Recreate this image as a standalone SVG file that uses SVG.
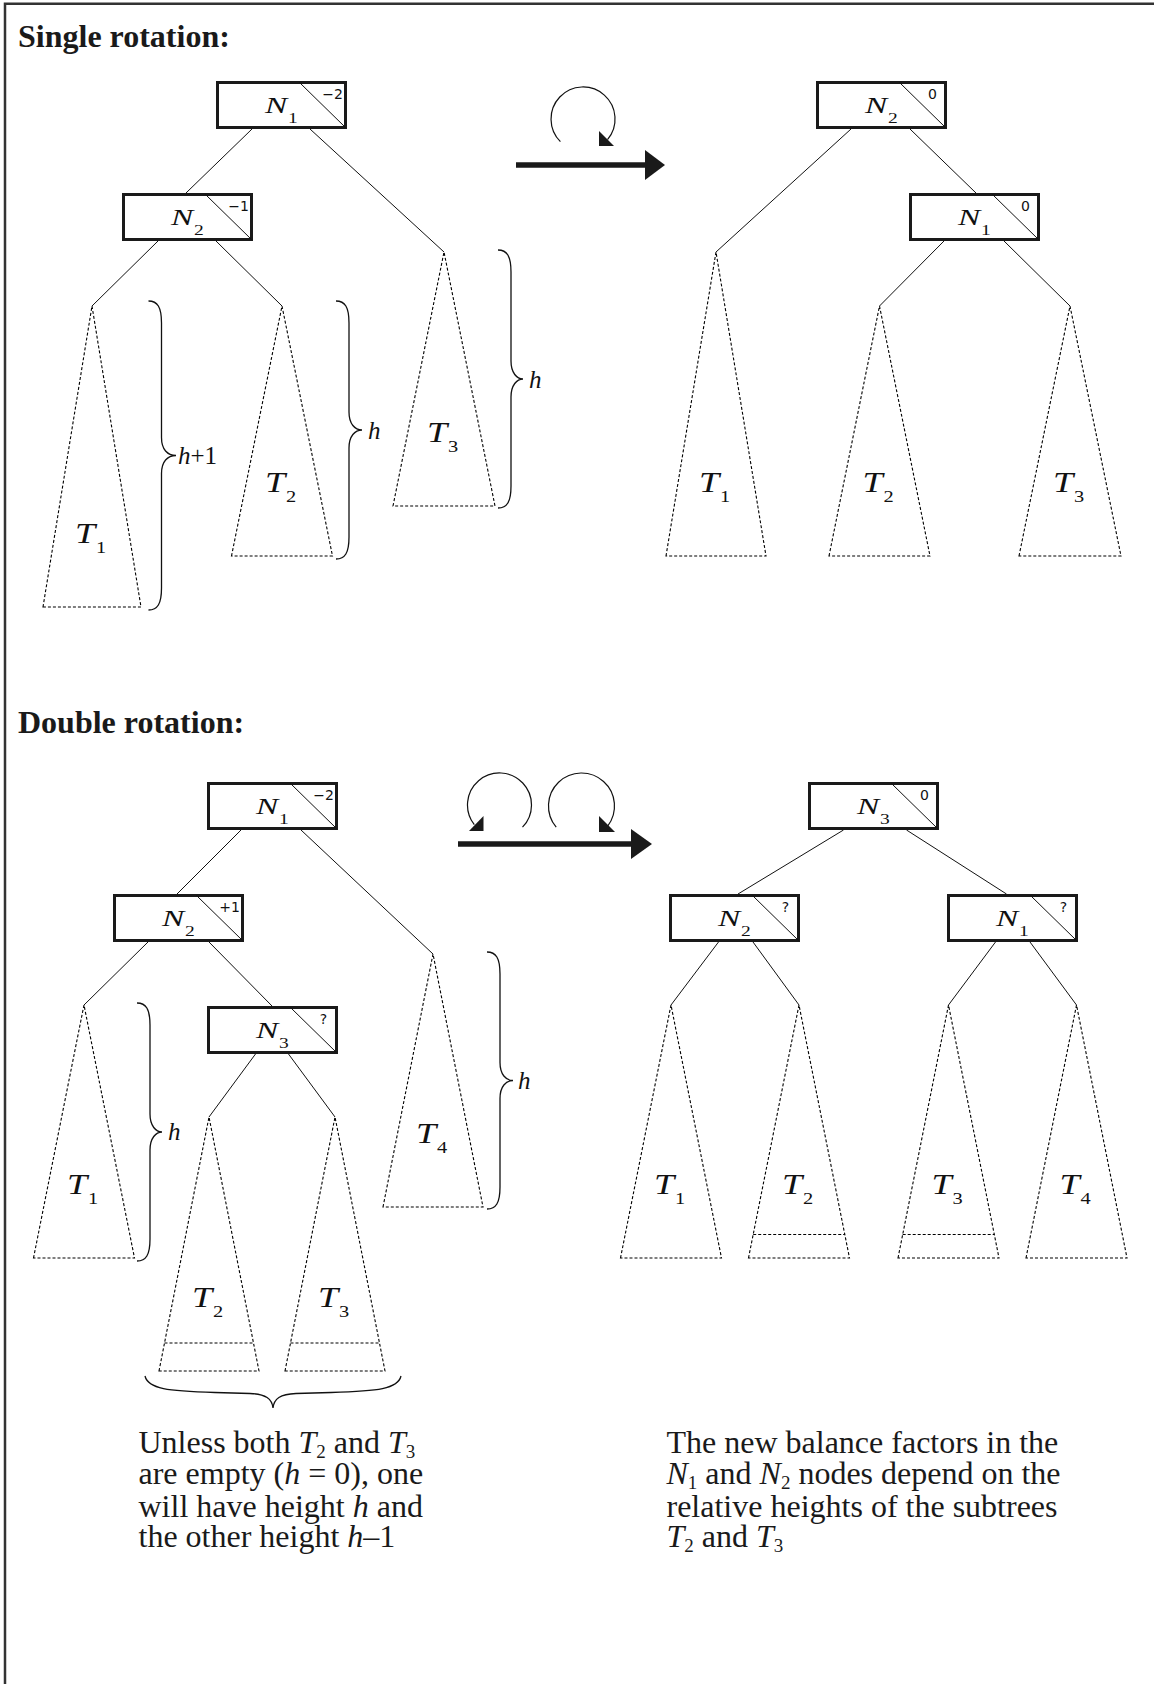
<svg xmlns="http://www.w3.org/2000/svg" width="1154" height="1684" viewBox="0 0 1154 1684">
<style>
.bg{fill:#fff}
.frame{fill:none;stroke:#333;stroke-width:2.5}
.node rect{fill:#fff;stroke:#1a1a1a;stroke-width:3}
.diag{stroke:#111;stroke-width:1}
.edge{stroke:#111;stroke-width:1;fill:none}
.tri{fill:none;stroke:#000;stroke-width:1.1;stroke-dasharray:3 2}
.brace{fill:none;stroke:#111;stroke-width:1.3}
.bf{font-family:"DejaVu Sans",sans-serif;font-size:14px;text-anchor:middle;fill:#111}
.nl{font-family:"Liberation Serif",serif;font-style:italic;font-size:23px;fill:#111}
.ns{font-family:"Liberation Serif",serif;font-size:15px;fill:#111}
.tl{font-family:"Liberation Serif",serif;font-style:italic;font-size:29px;fill:#111}
.ts{font-family:"Liberation Serif",serif;font-size:17px;fill:#111}
.hl{font-family:"Liberation Serif",serif;font-size:25px;fill:#111}
.it{font-style:italic}
.title{font-family:"Liberation Serif",serif;font-weight:bold;font-size:32px;fill:#1a1a1a}
.para{font-family:"Liberation Serif",serif;font-size:32px;fill:#1a1a1a}
.rot{fill:none;stroke:#111;stroke-width:1.2}
.bar{stroke:#1a1a1a;stroke-width:5.5}
.head{fill:#1a1a1a}
</style>
<rect class="bg" x="0" y="0" width="1154" height="1684"/>
<path class="frame" d="M5,1684 V3.7 H1154"/>

<text class="title" x="18" y="47">Single rotation:</text>
<text class="title" x="18" y="733">Double rotation:</text>

<g id="connectors">
  <line class="edge" x1="252" y1="129" x2="186" y2="193"/>
  <line class="edge" x1="310" y1="129" x2="444" y2="252"/>
  <line class="edge" x1="158" y1="241" x2="92" y2="306"/>
  <line class="edge" x1="216" y1="241" x2="282" y2="306"/>
  <line class="edge" x1="851" y1="129" x2="716" y2="252"/>
  <line class="edge" x1="910" y1="129" x2="976" y2="193"/>
  <line class="edge" x1="944" y1="241" x2="879.5" y2="306"/>
  <line class="edge" x1="1004" y1="241" x2="1070" y2="306"/>
  <line class="edge" x1="241" y1="830" x2="177" y2="894"/>
  <line class="edge" x1="301" y1="830" x2="433" y2="954"/>
  <line class="edge" x1="148" y1="942" x2="84" y2="1005"/>
  <line class="edge" x1="209" y1="942" x2="272" y2="1006"/>
  <line class="edge" x1="255.5" y1="1054" x2="209" y2="1117"/>
  <line class="edge" x1="288.5" y1="1054" x2="335" y2="1117"/>
  <line class="edge" x1="843.5" y1="830" x2="738" y2="894"/>
  <line class="edge" x1="906.5" y1="830" x2="1006.5" y2="894"/>
  <line class="edge" x1="718.5" y1="942" x2="671" y2="1005"/>
  <line class="edge" x1="753" y1="942" x2="799" y2="1005"/>
  <line class="edge" x1="995.5" y1="942" x2="948.5" y2="1005"/>
  <line class="edge" x1="1030" y1="942" x2="1076.5" y2="1005"/>
</g>

<g id="rotation-arrows">
  <path class="rot" d="M560.4,141.6 A32,32 0 1 1 607.5,139.6"/>
  <polygon class="head" points="599,131 599,146 614,146"/>
  <line class="bar" x1="516" y1="165" x2="646" y2="165"/>
  <polygon class="head" points="645,150 665,165 645,180"/>
  <path class="rot" d="M522.5,827.2 A32,32 0 1 0 474.3,824.7"/>
  <polygon class="head" points="469,831 483.5,831 483.5,816"/>
  <path class="rot" d="M556.2,827.2 A33,33 0 1 1 607.5,826.3"/>
  <polygon class="head" points="599,816 599,832 615,832"/>
  <line class="bar" x1="458" y1="844" x2="632" y2="844"/>
  <polygon class="head" points="631,829 652,844 631,859"/>
</g>

<g id="s-n1" class="node">
  <rect x="217.5" y="82.5" width="128" height="45"/>
  <line class="diag" x1="299.5" y1="82.5" x2="345.5" y2="127.5"/>
  <text class="bf" x="332.5" y="98.5">−2</text>
  <text class="nl" transform="translate(265 112.5) scale(1.45 1)">N</text>
  <text class="ns" transform="translate(288 122.5) scale(1.3 1)">1</text>
</g>
<g id="s-n2" class="node">
  <rect x="123.5" y="194.5" width="128" height="45"/>
  <line class="diag" x1="205.5" y1="194.5" x2="251.5" y2="239.5"/>
  <text class="bf" x="238.5" y="210.5">−1</text>
  <text class="nl" transform="translate(171 224.5) scale(1.45 1)">N</text>
  <text class="ns" transform="translate(194 234.5) scale(1.3 1)">2</text>
</g>
<g id="s-n2r" class="node">
  <rect x="817.5" y="82.5" width="128" height="45"/>
  <line class="diag" x1="899.5" y1="82.5" x2="945.5" y2="127.5"/>
  <text class="bf" x="932.5" y="98.5">0</text>
  <text class="nl" transform="translate(865 112.5) scale(1.45 1)">N</text>
  <text class="ns" transform="translate(888 122.5) scale(1.3 1)">2</text>
</g>
<g id="s-n1r" class="node">
  <rect x="910.5" y="194.5" width="128" height="45"/>
  <line class="diag" x1="992.5" y1="194.5" x2="1038.5" y2="239.5"/>
  <text class="bf" x="1025.5" y="210.5">0</text>
  <text class="nl" transform="translate(958 224.5) scale(1.45 1)">N</text>
  <text class="ns" transform="translate(981 234.5) scale(1.3 1)">1</text>
</g>

<g id="d-n1" class="node">
  <rect x="208.5" y="783.5" width="128" height="45"/>
  <line class="diag" x1="290.5" y1="783.5" x2="336.5" y2="828.5"/>
  <text class="bf" x="323.5" y="799.5">−2</text>
  <text class="nl" transform="translate(256 813.5) scale(1.45 1)">N</text>
  <text class="ns" transform="translate(279 823.5) scale(1.3 1)">1</text>
</g>
<g id="d-n2" class="node">
  <rect x="114.5" y="895.5" width="128" height="45"/>
  <line class="diag" x1="196.5" y1="895.5" x2="242.5" y2="940.5"/>
  <text class="bf" x="229.5" y="911.5">+1</text>
  <text class="nl" transform="translate(162 925.5) scale(1.45 1)">N</text>
  <text class="ns" transform="translate(185 935.5) scale(1.3 1)">2</text>
</g>
<g id="d-n3" class="node">
  <rect x="208.5" y="1007.5" width="128" height="45"/>
  <line class="diag" x1="290.5" y1="1007.5" x2="336.5" y2="1052.5"/>
  <text class="bf" x="323.5" y="1023.5">?</text>
  <text class="nl" transform="translate(256 1037.5) scale(1.45 1)">N</text>
  <text class="ns" transform="translate(279 1047.5) scale(1.3 1)">3</text>
</g>
<g id="d-n3r" class="node">
  <rect x="809.5" y="783.5" width="128" height="45"/>
  <line class="diag" x1="891.5" y1="783.5" x2="937.5" y2="828.5"/>
  <text class="bf" x="924.5" y="799.5">0</text>
  <text class="nl" transform="translate(857 813.5) scale(1.45 1)">N</text>
  <text class="ns" transform="translate(880 823.5) scale(1.3 1)">3</text>
</g>
<g id="d-n2r" class="node">
  <rect x="670.5" y="895.5" width="128" height="45"/>
  <line class="diag" x1="752.5" y1="895.5" x2="798.5" y2="940.5"/>
  <text class="bf" x="785.5" y="911.5">?</text>
  <text class="nl" transform="translate(718 925.5) scale(1.45 1)">N</text>
  <text class="ns" transform="translate(741 935.5) scale(1.3 1)">2</text>
</g>
<g id="d-n1r" class="node">
  <rect x="948.5" y="895.5" width="128" height="45"/>
  <line class="diag" x1="1030.5" y1="895.5" x2="1076.5" y2="940.5"/>
  <text class="bf" x="1063.5" y="911.5">?</text>
  <text class="nl" transform="translate(996 925.5) scale(1.45 1)">N</text>
  <text class="ns" transform="translate(1019 935.5) scale(1.3 1)">1</text>
</g>

<g id="s-t1"><path class="tri" d="M43,607 L92,306 L141,607 Z"/>
  <text class="tl" transform="translate(75 543) scale(1.25 1)">T</text>
  <text class="ts" transform="translate(96 553) scale(1.2 1)">1</text></g>
<g id="s-t2"><path class="tri" d="M231.5,556 L282,306 L332.5,556 Z"/>
  <text class="tl" transform="translate(265 492) scale(1.25 1)">T</text>
  <text class="ts" transform="translate(286 502) scale(1.2 1)">2</text></g>
<g id="s-t3"><path class="tri" d="M393,506 L444,252 L495,506 Z"/>
  <text class="tl" transform="translate(427 442) scale(1.25 1)">T</text>
  <text class="ts" transform="translate(448 452) scale(1.2 1)">3</text></g>
<g id="s-t1r"><path class="tri" d="M666,556 L716,252 L766,556 Z"/>
  <text class="tl" transform="translate(699 492) scale(1.25 1)">T</text>
  <text class="ts" transform="translate(720 502) scale(1.2 1)">1</text></g>
<g id="s-t2r"><path class="tri" d="M829,556 L879.5,306 L930,556 Z"/>
  <text class="tl" transform="translate(862.5 492) scale(1.25 1)">T</text>
  <text class="ts" transform="translate(883.5 502) scale(1.2 1)">2</text></g>
<g id="s-t3r"><path class="tri" d="M1019,556 L1070,306 L1121,556 Z"/>
  <text class="tl" transform="translate(1053 492) scale(1.25 1)">T</text>
  <text class="ts" transform="translate(1074 502) scale(1.2 1)">3</text></g>

<g id="d-t1"><path class="tri" d="M33.5,1258 L84,1005 L134.5,1258 Z"/>
  <text class="tl" transform="translate(67 1194) scale(1.25 1)">T</text>
  <text class="ts" transform="translate(88 1204) scale(1.2 1)">1</text></g>
<g id="d-t4"><path class="tri" d="M383,1207 L433,954 L483,1207 Z"/>
  <text class="tl" transform="translate(416 1143) scale(1.25 1)">T</text>
  <text class="ts" transform="translate(437 1153) scale(1.2 1)">4</text></g>
<g id="d-t2"><path class="tri" d="M159,1371 L209,1117 L259,1371 Z"/>
  <path class="tri" d="M164.5,1343 H253.5"/>
  <text class="tl" transform="translate(192 1307) scale(1.25 1)">T</text>
  <text class="ts" transform="translate(213 1317) scale(1.2 1)">2</text></g>
<g id="d-t3"><path class="tri" d="M285,1371 L335,1117 L385,1371 Z"/>
  <path class="tri" d="M290.5,1343 H379.5"/>
  <text class="tl" transform="translate(318 1307) scale(1.25 1)">T</text>
  <text class="ts" transform="translate(339 1317) scale(1.2 1)">3</text></g>
<g id="d-t1r"><path class="tri" d="M620.5,1258 L671,1005 L721.5,1258 Z"/>
  <text class="tl" transform="translate(654 1194) scale(1.25 1)">T</text>
  <text class="ts" transform="translate(675 1204) scale(1.2 1)">1</text></g>
<g id="d-t2r"><path class="tri" d="M748.5,1258 L799,1005 L849.5,1258 Z"/>
  <path class="tri" d="M753.2,1234.5 H844.8"/>
  <text class="tl" transform="translate(782 1194) scale(1.25 1)">T</text>
  <text class="ts" transform="translate(803 1204) scale(1.2 1)">2</text></g>
<g id="d-t3r"><path class="tri" d="M898,1258 L948.5,1005 L999,1258 Z"/>
  <path class="tri" d="M902.7,1234.5 H994.3"/>
  <text class="tl" transform="translate(931.5 1194) scale(1.25 1)">T</text>
  <text class="ts" transform="translate(952.5 1204) scale(1.2 1)">3</text></g>
<g id="d-t4r"><path class="tri" d="M1026,1258 L1076.5,1005 L1127,1258 Z"/>
  <text class="tl" transform="translate(1059.5 1194) scale(1.25 1)">T</text>
  <text class="ts" transform="translate(1080.5 1204) scale(1.2 1)">4</text></g>

<g id="braces">
  <path class="brace" d="M148.5,301 C157.5,301 161.5,307 161.5,323 L161.5,437.5 C161.5,449.5 167.5,455.5 176,455.5 C167.5,455.5 161.5,461.5 161.5,473.5 L161.5,588 C161.5,604 157.5,610 148.5,610"/>
  <text class="hl" x="178" y="463.5"><tspan class="it">h</tspan>+1</text>
  <path class="brace" d="M336,301 C345,301 349,307 349,323 L349,412 C349,424 355,430 362,430 C355,430 349,436 349,448 L349,537 C349,553 345,559 336,559"/>
  <text class="hl it" x="368" y="438.5">h</text>
  <path class="brace" d="M498,250 C507,250 511,256 511,272 L511,361 C511,373 517,379 523,379 C517,379 511,385 511,397 L511,486 C511,502 507,508 498,508"/>
  <text class="hl it" x="529" y="387.5">h</text>
  <path class="brace" d="M137,1003 C146,1003 150,1009 150,1025 L150,1114 C150,1126 156,1132 162,1132 C156,1132 150,1138 150,1150 L150,1239 C150,1255 146,1261 137,1261"/>
  <text class="hl it" x="168" y="1140">h</text>
  <path class="brace" d="M487,952 C496,952 500,958 500,974 L500,1062.5 C500,1074.5 506,1080.5 513,1080.5 C506,1080.5 500,1086.5 500,1098.5 L500,1187 C500,1203 496,1209 487,1209"/>
  <text class="hl it" x="518" y="1089">h</text>
  <path class="brace" d="M145,1376 C148,1389 168,1391 215,1392.5 L250,1393.5 C266,1394 272,1399 273,1408 C274,1399 280,1394 296,1393.5 L331,1392.5 C378,1391 398,1389 401,1376"/>
</g>

<g id="note-left" class="para">
  <text x="138.5" y="1453">Unless both <tspan class="it">T</tspan><tspan font-size="19" dy="5">2</tspan><tspan dy="-5"> and </tspan><tspan class="it">T</tspan><tspan font-size="19" dy="5">3</tspan></text>
  <text x="138.5" y="1484">are empty (<tspan class="it">h</tspan> = 0), one</text>
  <text x="138.5" y="1516.5">will have height <tspan class="it">h</tspan> and</text>
  <text x="138.5" y="1547">the other height <tspan class="it">h</tspan>–1</text>
</g>
<g id="note-right" class="para">
  <text x="666.5" y="1453">The new balance factors in the</text>
  <text x="666.5" y="1484"><tspan class="it">N</tspan><tspan font-size="19" dy="5">1</tspan><tspan dy="-5"> and </tspan><tspan class="it">N</tspan><tspan font-size="19" dy="5">2</tspan><tspan dy="-5"> nodes depend on the</tspan></text>
  <text x="666.5" y="1516.5">relative heights of the subtrees</text>
  <text x="666.5" y="1547"><tspan class="it">T</tspan><tspan font-size="19" dy="5">2</tspan><tspan dy="-5"> and </tspan><tspan class="it">T</tspan><tspan font-size="19" dy="5">3</tspan></text>
</g>
</svg>
